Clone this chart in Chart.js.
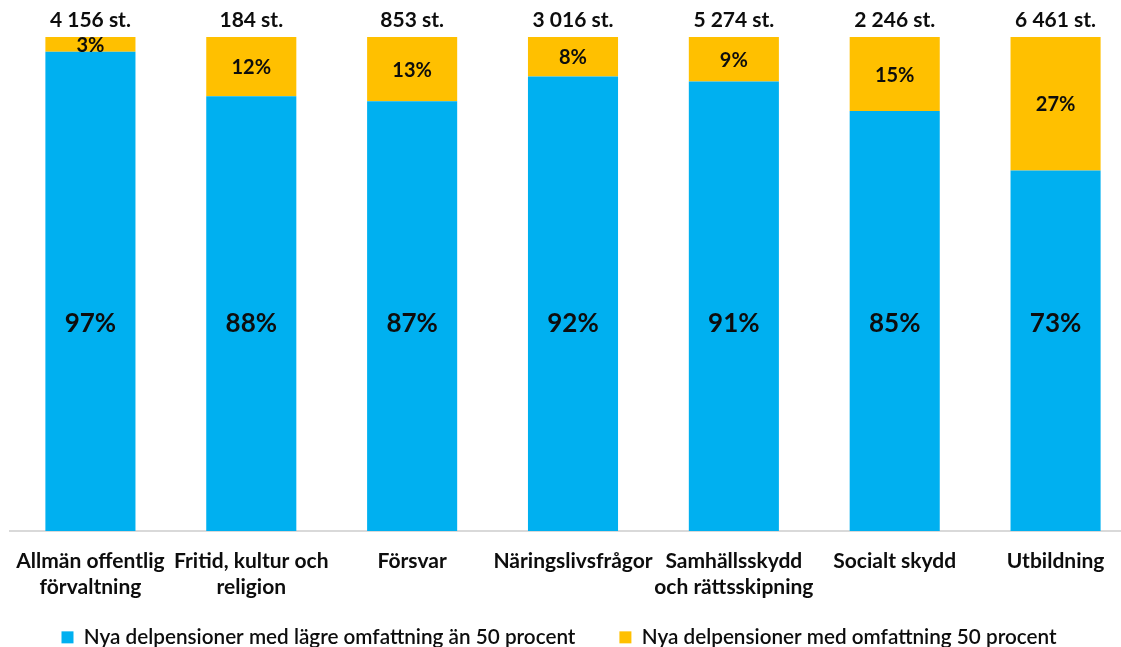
<!DOCTYPE html>
<html>
<head>
<meta charset="utf-8">
<script src="https://cdn.jsdelivr.net/npm/chart.js@4/dist/chart.umd.min.js"></script>
<style>
  html, body { margin: 0; padding: 0; background: #fff; overflow: hidden; }
  .wrap { position: relative; width: 1136px; height: 647px; }
</style>
</head>
<body>
<div class="wrap"><canvas id="delChart"></canvas></div>
<script>
const categories = [
  ['Allmän offentlig', 'förvaltning'],
  ['Fritid, kultur och', 'religion'],
  'Försvar',
  'Näringslivsfrågor',
  ['Samhällsskydd', 'och rättsskipning'],
  'Socialt skydd',
  'Utbildning'
];
const lowerShare = [97, 88, 87, 92, 91, 85, 73];
const fullShare = [3, 12, 13, 8, 9, 15, 27];
const totals = [4156, 184, 853, 3016, 5274, 2246, 6461];
const seriesNames = [
  'Nya delpensioner med lägre omfattning än 50 procent',
  'Nya delpensioner med omfattning 50 procent'
];

const FONT = 'Lato, "Open Sans", sans-serif';
const BLUE = '#00B0F0';
const YELLOW = '#FFC000';
const INK = '#0d0d0d';

function fmtTotal(n) {
  return String(n).replace(/\B(?=(\d{3})+(?!\d))/g, ' ') + ' st.';
}

// percent labels inside the bars + totals above them
const labelPlugin = {
  id: 'barLabels',
  afterDatasetsDraw(chart) {
    const ctx = chart.ctx;
    const y = chart.scales.y;
    const blueMeta = chart.getDatasetMeta(0);
    const yellowMeta = chart.getDatasetMeta(1);
    ctx.save();
    ctx.fillStyle = INK;
    ctx.textAlign = 'center';
    ctx.textBaseline = 'middle';
    blueMeta.data.forEach((bar, i) => {
      ctx.font = 'bold 26px ' + FONT;
      ctx.fillText(lowerShare[i] + '%', bar.x, y.getPixelForValue(42));
    });
    yellowMeta.data.forEach((bar, i) => {
      ctx.font = 'bold 20px ' + FONT;
      ctx.fillText(fullShare[i] + '%', bar.x, (bar.y + bar.base) / 2 + 1);
      ctx.font = 'bold 21px ' + FONT;
      ctx.fillText(fmtTotal(totals[i]), bar.x, bar.y - 17);
    });
    ctx.restore();
  }
};

// legend: short box in the layout, then moved so the wide item padding fits
const legendPlace = {
  id: 'legendPlace',
  beforeInit(chart) {
    const fit = chart.legend.fit;
    chart.legend.fit = function () {
      fit.bind(chart.legend)();
      this.height = 35;
    };
  },
  afterLayout(chart) {
    const lg = chart.legend;
    lg.top = 583;
    lg.bottom = 647;
    lg.left -= 14;
    lg.right -= 14;
  }
};

new Chart(document.getElementById('delChart'), {
  type: 'bar',
  data: {
    labels: categories,
    datasets: [{
      label: seriesNames[0],
      data: lowerShare,
      backgroundColor: BLUE,
      barPercentage: 0.56,
      categoryPercentage: 1
    }, {
      label: seriesNames[1],
      data: fullShare,
      backgroundColor: YELLOW,
      barPercentage: 0.56,
      categoryPercentage: 1
    }]
  },
  options: {
    responsive: true,
    maintainAspectRatio: false,
    animation: false,
    layout: { padding: { top: 37, left: 10, right: 0, bottom: 0 } },
    plugins: {
      legend: {
        position: 'bottom',
        labels: {
          color: INK,
          font: { family: FONT, size: 20.7, weight: '600' },
          boxWidth: 12,
          boxHeight: 12,
          padding: 44
        }
      },
      tooltip: { enabled: false }
    },
    scales: {
      x: {
        stacked: true,
        grid: { display: false },
        border: { display: true, color: '#d9d9d9', width: 2 },
        ticks: {
          color: INK,
          font: { family: FONT, size: 21, weight: 'bold', lineHeight: 1.2 },
          padding: 10,
          maxRotation: 0,
          autoSkip: false
        },
        afterFit(scale) { scale.height = 81; }
      },
      y: {
        stacked: true,
        display: false,
        min: 0,
        max: 100
      }
    }
  },
  plugins: [labelPlugin, legendPlace]
});
</script>
</body>
</html>
